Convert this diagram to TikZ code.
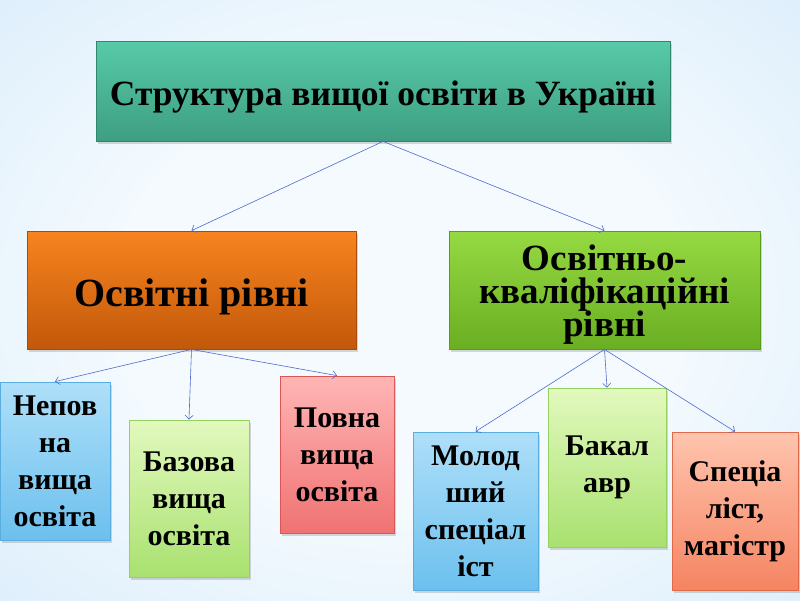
\documentclass[tikz,border=0pt]{standalone}
\usepackage{fontspec}
\setmainfont{Liberation Serif}
\usetikzlibrary{arrows.meta,shadows}
\definecolor{bgA}{HTML}{F4FAFE}
\definecolor{bgB}{HTML}{D6EBFB}
\definecolor{bgC}{HTML}{9CCFF6}
\definecolor{arrowc}{HTML}{4F6BCC}
\definecolor{tealT}{HTML}{57CAA8}
\definecolor{tealB}{HTML}{3E9E82}
\definecolor{tealD}{HTML}{2F876C}
\definecolor{orT}{HTML}{F8841F}
\definecolor{orB}{HTML}{C2580A}
\definecolor{orD}{HTML}{A84C08}
\definecolor{grT}{HTML}{95DA42}
\definecolor{grB}{HTML}{6AAE22}
\definecolor{grD}{HTML}{5C9A1C}
\definecolor{blT}{HTML}{AEDFF9}
\definecolor{blB}{HTML}{6CC0EE}
\definecolor{blD}{HTML}{5AADDF}
\definecolor{lgT}{HTML}{E2F9BE}
\definecolor{lgB}{HTML}{A9E170}
\definecolor{lgD}{HTML}{98D060}
\definecolor{pkT}{HTML}{FFB5B5}
\definecolor{pkB}{HTML}{F07272}
\definecolor{pkD}{HTML}{DC5656}
\definecolor{saT}{HTML}{FFC4AE}
\definecolor{saB}{HTML}{F58462}
\definecolor{saD}{HTML}{E06A48}
\pgfdeclareradialshading{bgshade}{\pgfpoint{0bp}{0bp}}{color(0bp)=(bgA); color(18bp)=(bgA); color(42bp)=(bgB); color(58bp)=(bgC); color(75bp)=(bgC)}
\tikzset{
  box/.style={rectangle, align=center, inner sep=2pt, line width=0.8pt, font=\bfseries,
    drop shadow={shadow xshift=2pt, shadow yshift=-3pt, opacity=0.3}},
  conn/.style={draw=arrowc, line width=0.6pt, -{Straight Barb[length=4pt,width=8pt]}},
  bigtext/.style={font=\bfseries\fontsize{35.5}{38}\selectfont},
  midtext/.style={font=\bfseries\fontsize{40}{44}\selectfont},
  grtext/.style={font=\bfseries\fontsize{37}{40}\selectfont, inner sep=0pt, text height=23pt, text depth=8pt},
  smtext/.style={font=\bfseries\fontsize{30}{37}\selectfont}
}
\begin{document}
\begin{tikzpicture}[x=1pt,y=-1pt]
\shade[shading=bgshade] (0,0) rectangle (800,600);
\useasboundingbox (0,0) rectangle (800,600);

\node[box, top color=tealT, bottom color=tealB, draw=tealD,
  minimum width=574pt, minimum height=100pt] (top) at (383,91) {};
\node[bigtext, anchor=base] (toptext) at (383,105) {Структура вищої освіти в Україні};

\node[box, top color=orT, bottom color=orB, draw=orD,
  minimum width=329pt, minimum height=118pt] (lev) at (191.5,290) {};
\node[midtext, anchor=base] (levtext) at (191.5,306) {Освітні рівні};

\node[box, top color=grT, bottom color=grB, draw=grD,
  minimum width=311pt, minimum height=118pt] (qual) at (604.5,290) {};
\node[grtext, anchor=base] (qualtext1) at (604.5,270) {Освітньо-};
\node[grtext, anchor=base] (qualtext2) at (604.5,303) {кваліфікаційні};
\node[grtext, anchor=base] (qualtext3) at (604.5,336) {рівні};

\node[box, smtext, top color=blT, bottom color=blB, draw=blD,
  minimum width=110pt, minimum height=158pt] (a) at (55,461) {Непов\\на\\вища\\освіта};
\node[box, smtext, top color=lgT, bottom color=lgB, draw=lgD,
  minimum width=120pt, minimum height=157pt] (b) at (189,498.5) {Базова\\вища\\освіта};
\node[box, smtext, top color=pkT, bottom color=pkB, draw=pkD,
  minimum width=114pt, minimum height=157pt] (c) at (337,454.5) {Повна\\вища\\освіта};

\node[box, smtext, top color=blT, bottom color=blB, draw=blD,
  minimum width=125pt, minimum height=158pt] (d) at (475.5,511) {Молод\\ший\\спеціал\\іст};
\node[box, smtext, top color=lgT, bottom color=lgB, draw=lgD,
  minimum width=118pt, minimum height=159pt] (e) at (607,467.5) {Бакал\\авр};
\node[box, smtext, top color=saT, bottom color=saB, draw=saD,
  minimum width=126pt, minimum height=158pt] (f) at (735,511) {Спеціа\\ліст,\\магістр};

\draw[conn] (top.south) -- (lev.north);
\draw[conn] (top.south) -- (qual.north);
\draw[conn] (lev.south) -- (a.north);
\draw[conn] (lev.south) -- (b.north);
\draw[conn] (lev.south) -- (c.north);
\draw[conn] (qual.south) -- (d.north);
\draw[conn] (qual.south) -- (e.north);
\draw[conn] (qual.south) -- (f.north);
\end{tikzpicture}
\end{document}
